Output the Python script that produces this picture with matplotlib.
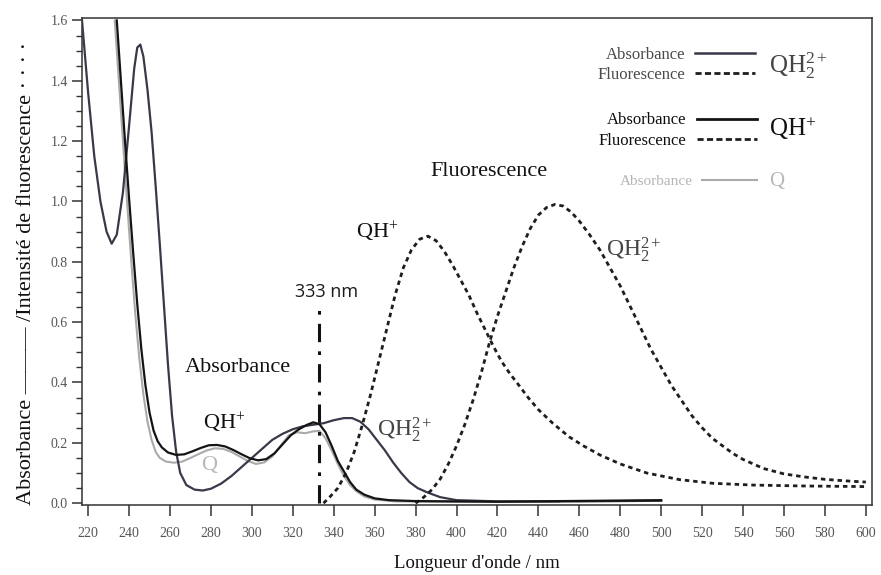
import matplotlib
matplotlib.use("Agg")
import matplotlib.pyplot as plt
from matplotlib.lines import Line2D
from matplotlib.ticker import MultipleLocator

# =============================================================================
# DATA
# =============================================================================

# QH2(2+) absorbance
wl_qh2_abs = [217, 220, 223, 226, 229, 231.5, 234, 237, 240, 242.5, 244, 245.5,
              247, 249, 251, 253, 255, 257, 259, 261, 263, 265, 268, 272, 276,
              280, 285, 290, 295, 300, 305, 310, 315, 320, 325, 330, 335, 340,
              345, 349, 353, 357, 361, 365, 369, 373, 377, 381, 386, 392, 400,
              420, 460, 500]
ab_qh2_abs = [1.60, 1.36, 1.15, 1.00, 0.90, 0.86, 0.89, 1.03, 1.25, 1.44, 1.51, 1.52,
              1.48, 1.37, 1.23, 1.05, 0.86, 0.66, 0.46, 0.29, 0.17, 0.10, 0.06, 0.045, 0.042,
              0.048, 0.065, 0.09, 0.12, 0.15, 0.18, 0.21, 0.23, 0.245, 0.255, 0.26, 0.265, 0.275,
              0.282, 0.282, 0.27, 0.245, 0.21, 0.175, 0.135, 0.10, 0.07, 0.05, 0.035, 0.02, 0.01,
              0.006, 0.006, 0.008]

# QH(+) absorbance
wl_qh_abs = [234, 236, 238, 240, 242, 244, 246, 248, 250, 252, 254, 256, 259, 263,
             267, 271, 275, 279, 283, 287, 291, 295, 299, 303, 307, 311, 315, 319,
             323, 327, 330, 333, 336, 339, 342, 345, 348, 351, 355, 360, 367, 380,
             420, 500]
ab_qh_abs = [1.60, 1.40, 1.20, 1.01, 0.83, 0.66, 0.51, 0.39, 0.30, 0.24, 0.205, 0.185, 0.168, 0.16,
             0.162, 0.172, 0.183, 0.192, 0.193, 0.188, 0.176, 0.162, 0.149, 0.142, 0.146, 0.165, 0.195, 0.225,
             0.245, 0.26, 0.268, 0.262, 0.235, 0.19, 0.14, 0.105, 0.07, 0.045, 0.028, 0.016, 0.01, 0.007,
             0.005, 0.01]

# Q absorbance
wl_q_abs = [233, 235, 237, 239, 241, 243, 245, 247, 249, 251, 253, 255, 258, 262,
            266, 270, 274, 278, 282, 286, 290, 294, 298, 302, 306, 310, 314, 318,
            322, 326, 330, 333, 336, 339, 342, 345, 348, 351, 355, 360, 370, 400, 450]
ab_q_abs = [1.60, 1.40, 1.20, 1.00, 0.81, 0.63, 0.48, 0.36, 0.27, 0.21, 0.17, 0.15, 0.138, 0.134,
            0.138, 0.15, 0.163, 0.175, 0.182, 0.18, 0.17, 0.155, 0.14, 0.13, 0.135, 0.155, 0.19, 0.225,
            0.235, 0.232, 0.238, 0.24, 0.215, 0.175, 0.13, 0.09, 0.06, 0.04, 0.022, 0.012, 0.006, 0.004, 0.004]

# QH(+) fluorescence
wl_qh_fl = [335, 338, 342, 346, 350, 354, 358, 362, 366, 370, 374, 378, 382, 386,
            390, 394, 398, 402, 406, 410, 414, 418, 422, 426, 430, 435, 440, 447,
            455, 462, 470, 480, 493, 509, 525, 545, 570, 600]
fl_qh_fl = [0.0, 0.02, 0.05, 0.10, 0.17, 0.26, 0.36, 0.47, 0.58, 0.69, 0.78, 0.84, 0.875, 0.885,
            0.87, 0.835, 0.79, 0.74, 0.69, 0.63, 0.575, 0.52, 0.47, 0.43, 0.395, 0.35, 0.31, 0.265,
            0.22, 0.19, 0.16, 0.13, 0.10, 0.078, 0.066, 0.06, 0.057, 0.055]

# QH2(2+) fluorescence
wl_qh2_fl = [380, 384, 388, 392, 396, 400, 404, 408, 412, 416, 420, 424, 428, 432,
             436, 440, 444, 448, 452, 456, 460, 465, 470, 475, 480, 485, 490, 495,
             500, 505, 510, 515, 520, 525, 530, 535, 540, 545, 550, 560, 570, 580,
             590, 600]
fl_qh2_fl = [0.0, 0.02, 0.045, 0.08, 0.13, 0.19, 0.26, 0.34, 0.43, 0.53, 0.62, 0.70, 0.78, 0.85,
             0.91, 0.955, 0.98, 0.99, 0.985, 0.965, 0.935, 0.89, 0.84, 0.78, 0.72, 0.65, 0.58, 0.51,
             0.45, 0.39, 0.34, 0.29, 0.25, 0.215, 0.19, 0.165, 0.145, 0.13, 0.115, 0.097, 0.087, 0.079,
             0.074, 0.07]

excitation_nm = 333
excitation_top = 0.64

x_ticks = list(range(220, 601, 20))
y_ticks = [0.0, 0.2, 0.4, 0.6, 0.8, 1.0, 1.2, 1.4, 1.6]

# =============================================================================
# STYLE
# =============================================================================

SERIF = "Liberation Serif"
plt.rcParams["font.family"] = SERIF
plt.rcParams["mathtext.fontset"] = "custom"
plt.rcParams["mathtext.rm"] = SERIF
plt.rcParams["mathtext.it"] = SERIF + ":italic"

C_QH2 = "#3d3749"
C_QH = "#141414"
C_Q = "#aaaaaa"
C_FL = "#1e1e1e"
DOTS = (0, (1.6, 1.4))

QH2_TXT = r"QH$_\mathregular{2}^\mathregular{2+}$"
QH_TXT = r"QH$^\mathregular{+}$"

# =============================================================================
# FIGURE
# =============================================================================

fig = plt.figure(figsize=(8.81, 5.75), dpi=100)
ax = fig.add_axes([82 / 881, 1 - 505 / 575, 790 / 881, 487 / 575])

ax.plot(wl_q_abs, ab_q_abs, color=C_Q, lw=1.5, zorder=2)
ax.plot(wl_qh2_abs, ab_qh2_abs, color=C_QH2, lw=1.6, zorder=3)
ax.plot(wl_qh_abs, ab_qh_abs, color=C_QH, lw=1.6, zorder=4)
ax.plot(wl_qh_fl, fl_qh_fl, color=C_FL, lw=2.0, ls=DOTS, zorder=3)
ax.plot(wl_qh2_fl, fl_qh2_fl, color=C_FL, lw=2.0, ls=DOTS, zorder=3)

# excitation wavelength
ax.plot([excitation_nm, excitation_nm], [0, excitation_top], color="#111111",
        lw=2.2, ls=(0, (6, 3, 1.2, 3)), zorder=5)
ax.text(excitation_nm - 12, excitation_top + 0.06, f"{excitation_nm} nm",
        family="Open Sans", fontsize=13, color="#1a1a1a", va="center")

# in-plot labels
ax.text(387, 1.10, "Fluorescence", fontsize=16, color="#111111", va="center")
ax.text(267, 0.45, "Absorbance", fontsize=16, color="#111111", va="center")
ax.text(276, 0.265, QH_TXT, fontsize=16, color="#111111", va="center")
ax.text(361, 0.245, QH2_TXT, fontsize=17, color="#444444", va="center")
ax.text(275, 0.125, "Q", fontsize=16, color="#b8b8b8", va="center")
ax.text(351, 0.90, QH_TXT, fontsize=16, color="#111111", va="center")
ax.text(473, 0.84, QH2_TXT, fontsize=17, color="#444444", va="center")

# legend blocks (label on the left, line on the right)
leg_kw = dict(frameon=False, markerfirst=False, loc="center right",
              borderpad=0, borderaxespad=0, handlelength=3.6,
              handletextpad=0.6, labelspacing=0.25)

leg1 = ax.legend([Line2D([], [], color=C_QH2, lw=1.8),
                  Line2D([], [], color=C_FL, lw=2.0, ls=(0, (2.2, 1.2)))],
                 ["Absorbance", "Fluorescence"], fontsize=12,
                 bbox_to_anchor=(0.852, 0.903), labelcolor="#4a4a4a", **leg_kw)
ax.add_artist(leg1)
leg2 = ax.legend([Line2D([], [], color=C_QH, lw=2.0),
                  Line2D([], [], color=C_FL, lw=2.0, ls=(0, (2.2, 1.2)))],
                 ["Absorbance", "Fluorescence"], fontsize=12,
                 bbox_to_anchor=(0.854, 0.769), labelcolor="#0e0e0e", **leg_kw)
ax.add_artist(leg2)
ax.legend([Line2D([], [], color=C_Q, lw=1.5)], ["Absorbance"], fontsize=11,
          bbox_to_anchor=(0.854, 0.665), labelcolor="#b5b5b5", **leg_kw)

ax.text(0.870, 0.903, QH2_TXT, transform=ax.transAxes, fontsize=18,
        color="#444444", va="center")
ax.text(0.870, 0.772, QH_TXT, transform=ax.transAxes, fontsize=18,
        color="#111111", va="center")
ax.text(0.870, 0.665, "Q", transform=ax.transAxes, fontsize=15,
        color="#b8b8b8", va="center")

# axes
ax.set_xlim(217, 603)
ax.set_ylim(-0.006, 1.608)
ax.set_xticks(x_ticks)
ax.set_yticks(y_ticks)
ax.set_yticklabels([f"{v:.1f}" for v in y_ticks])
ax.yaxis.set_minor_locator(MultipleLocator(0.05))
ax.tick_params(axis="both", which="major", direction="out", color="#333333",
               labelcolor="#555555", labelsize=10)
ax.tick_params(axis="x", which="major", length=8, width=1.1, pad=8)
ax.tick_params(axis="y", which="major", length=7, width=1.1, pad=3)
ax.tick_params(axis="y", which="minor", length=4, width=1.0, color="#333333")
for s in ax.spines.values():
    s.set_color("#333333")
    s.set_linewidth(1.1)

ax.set_xlabel("Longueur d'onde / nm", fontsize=13.5, color="#111111", labelpad=11)
ax.set_ylabel("Absorbance \u2014\u2014\u2014 /Intensité de fluorescence \u00b7 \u00b7 \u00b7 \u00b7",
              fontsize=16, color="#111111")
ax.yaxis.set_label_coords(-0.058, 0.475)

plt.savefig("out.png", dpi=100)
